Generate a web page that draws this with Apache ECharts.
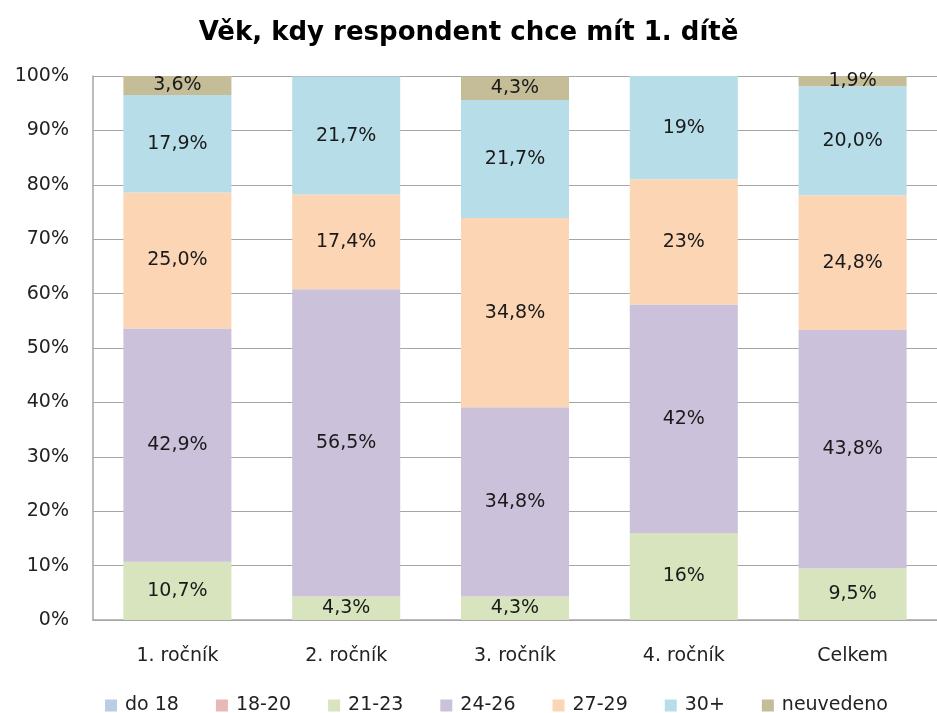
<!DOCTYPE html>
<html>
<head>
<meta charset="utf-8">
<script src="https://cdn.jsdelivr.net/npm/echarts@6/dist/echarts.min.js"></script>
<style>html,body{margin:0;padding:0;background:#fff}#c{width:937px;height:713px}</style>
</head>
<body>
<div id="c"></div>
<script>
const categories = ['1. ročník', '2. ročník', '3. ročník', '4. ročník', 'Celkem'];
const labelDecimals = [1, 1, 1, 0, 1];
const seriesNames = ['do 18', '18-20', '21-23', '24-26', '27-29', '30+', 'neuvedeno'];
const do18 = [0, 0, 0, 0, 0];
const s18_20 = [0, 0, 0, 0, 0];
const s21_23 = [10.7, 4.3, 4.3, 16, 9.5];
const s24_26 = [42.9, 56.5, 34.8, 42, 43.8];
const s27_29 = [25.0, 17.4, 34.8, 23, 24.8];
const s30plus = [17.9, 21.7, 21.7, 19, 20.0];
const neuvedeno = [3.6, 0, 4.3, 0, 1.9];
const yTicks = [0, 10, 20, 30, 40, 50, 60, 70, 80, 90, 100];
const colors = ['#b9cde5', '#e6b9b8', '#d7e4bd', '#ccc1da', '#fcd5b5', '#b7dee8', '#c4bd97'];
const allData = [do18, s18_20, s21_23, s24_26, s27_29, s30plus, neuvedeno];

const FONT = 'DejaVu Sans';
const FS = 19;
const chart = echarts.init(document.getElementById('c'));
chart.setOption({
  animation: false,
  title: {
    text: 'Věk, kdy respondent chce mít 1. dítě',
    left: 'center', top: 15,
    textStyle: { fontFamily: FONT, fontSize: 26, fontWeight: 'bold', color: '#000' }
  },
  legend: {
    top: 691, left: 100,
    itemWidth: 12, itemHeight: 12, itemGap: 37,
    icon: 'rect',
    textStyle: { fontFamily: FONT, fontSize: FS, color: '#222', padding: [0, 0, 0, 3] },
    data: seriesNames
  },
  grid: { left: 93, top: 76, width: 850, height: 544, containLabel: false },
  xAxis: {
    type: 'category', data: categories,
    axisLine: { lineStyle: { color: '#a6a6a6', width: 1.5 } },
    axisTick: { show: false },
    axisLabel: { fontFamily: FONT, fontSize: FS, color: '#222', margin: 27 }
  },
  yAxis: {
    type: 'value', min: 0, max: 100, interval: 10,
    axisLine: { show: true, lineStyle: { color: '#a6a6a6', width: 1.5 } },
    axisTick: { show: false },
    splitLine: { lineStyle: { color: '#a6a6a6', width: 1.2 } },
    axisLabel: { fontFamily: FONT, fontSize: FS, color: '#222', margin: 24,
      formatter: v => yTicks.includes(v) ? v + '%' : '' }
  },
  series: seriesNames.map((name, i) => ({
    name, type: 'bar', stack: 'total', barWidth: '64%',
    itemStyle: { color: colors[i] },
    label: {
      show: true, position: 'inside',
      fontFamily: FONT, fontSize: FS, color: '#1a1a1a',
      formatter: p => p.value ? p.value.toFixed(labelDecimals[p.dataIndex]).replace('.', ',') + '%' : ''
    },
    data: allData[i]
  }))
});
</script>
</body>
</html>
